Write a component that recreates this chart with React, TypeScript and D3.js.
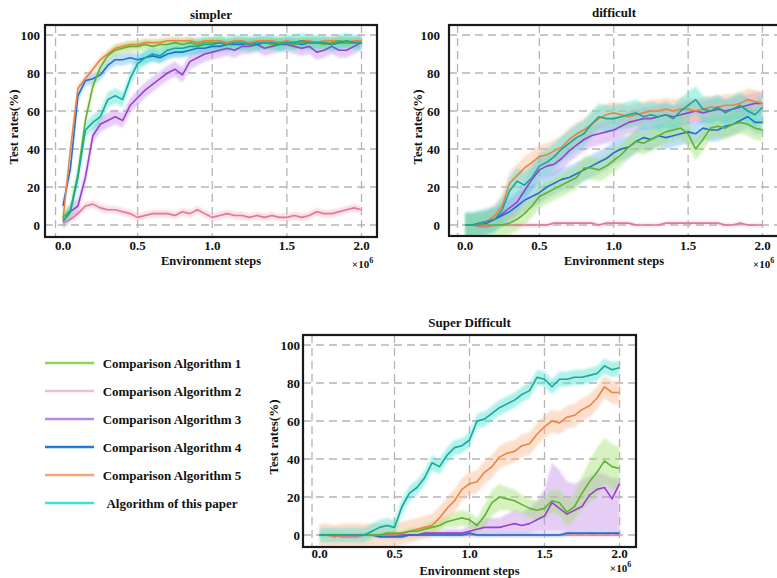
import React from 'react';
import * as d3 from 'd3';

// x positions of every sample (million environment steps)
const steps = [0, 0.05, 0.1, 0.15, 0.2, 0.25, 0.3, 0.35, 0.4, 0.45, 0.5, 0.55, 0.6, 0.65, 0.7, 0.75, 0.8, 0.85, 0.9, 0.95, 1.0,
  1.05, 1.1, 1.15, 1.2, 1.25, 1.3, 1.35, 1.4, 1.45, 1.5, 1.55, 1.6, 1.65, 1.7, 1.75, 1.8, 1.85, 1.9, 1.95, 2.0];

const legendNames = ['Comparison Algorithm 1', 'Comparison Algorithm 2', 'Comparison Algorithm 3',
  'Comparison Algorithm 4', 'Comparison Algorithm 5', 'Algorithm of this paper'];
const legendColors = ['#8fd45c', '#f6bccb', '#b985e3', '#1f79d6', '#f5a574', '#35e5d3'];
const lineColors = ['#5fb231', '#de7a92', '#9a40cf', '#1f70d2', '#ee8242', '#16a898'];
const bandColors = ['#9fe070', '#f5b3c3', '#c590ea', '#72b5f2', '#f9b98e', '#50e2d2'];

const yTicks = [0, 20, 40, 60, 80, 100];
const xTicks = [0, 0.5, 1.0, 1.5, 2.0];
const xTickLabels = ['0.0', '0.5', '1.0', '1.5', '2.0'];
const xGrid = [-0.05, 0.5, 1.0, 1.5, 2.0];

// ---- simpler
const simplerAlg1 = [4, 8, 27, 55, 73, 83, 89, 92, 93, 94, 94, 95, 94, 95, 95, 96, 95, 96, 95, 96, 96, 96, 95, 96, 96, 95, 96, 96, 95, 96, 96, 95, 96, 96, 96, 95, 96, 97, 96, 96, 96];
const simplerAlg2 = [1, 3, 6, 10, 11, 9, 8, 8, 7, 6, 4, 5, 6, 6, 6, 5, 7, 6, 8, 6, 4, 5, 6, 5, 5, 4, 5, 4, 5, 4, 4, 5, 4, 5, 7, 6, 6, 7, 8, 9, 8];
const simplerAlg3 = [2, 7, 10, 25, 47, 53, 55, 57, 55, 63, 67, 71, 74, 77, 80, 82, 79, 86, 88, 90, 91, 92, 93, 92, 94, 94, 95, 93, 94, 95, 95, 94, 93, 94, 91, 92, 94, 92, 92, 94, 96];
const simplerAlg4 = [10, 30, 68, 76, 77, 79, 84, 87, 87, 88, 87, 88, 89, 88, 90, 91, 91, 92, 93, 93, 94, 94, 95, 95, 95, 96, 95, 96, 96, 95, 96, 96, 95, 96, 96, 96, 95, 96, 96, 96, 96];
const simplerAlg5 = [3, 40, 72, 77, 82, 87, 90, 93, 94, 95, 95, 96, 96, 96, 97, 97, 97, 97, 96, 97, 97, 97, 96, 97, 97, 96, 97, 97, 97, 96, 97, 96, 97, 97, 96, 97, 97, 97, 96, 97, 97];
const simplerPaper = [2, 7, 25, 50, 54, 57, 66, 68, 66, 77, 85, 88, 90, 89, 92, 93, 93, 94, 94, 95, 95, 96, 95, 96, 96, 95, 96, 96, 96, 95, 96, 96, 97, 96, 96, 96, 95, 96, 97, 96, 96];
const simplerSpread = [3, 2, 4, 3, 2, 4];

// ---- difficult
const difficultAlg1 = [0, 0, 0, 0, 0, 0, 1, 3, 6, 10, 15, 17, 19, 21, 23, 25, 30, 30, 29, 31, 34, 37, 41, 44, 43, 45, 47, 49, 50, 51, 48, 40, 45, 51, 52, 51, 53, 54, 53, 51, 50];
const difficultAlg2 = [0, 0, -1, -1, 0, 0, 0, 0, 0, 0, 0, 0, 1, 1, 1, 1, 1, 1, 0, 1, 1, 1, 1, 0, 0, 0, 0, 1, 1, 1, 1, 1, 1, 1, 1, 0, 0, 1, 0, 0, 0];
const difficultAlg3 = [0, 0, 0, 1, 3, 6, 9, 12, 18, 24, 29, 31, 32, 35, 39, 42, 45, 47, 48, 49, 50, 52, 54, 55, 56, 56, 57, 58, 57, 58, 59, 60, 59, 60, 61, 60, 61, 62, 63, 64, 64];
const difficultAlg4 = [0, 0, 1, 2, 3, 5, 7, 10, 13, 15, 17, 20, 22, 24, 25, 27, 29, 31, 33, 35, 38, 40, 41, 44, 46, 45, 47, 46, 47, 48, 49, 48, 51, 50, 50, 52, 53, 55, 57, 54, 54];
const difficultAlg5 = [0, 0, 1, 2, 5, 10, 22, 26, 30, 33, 36, 37, 39, 41, 45, 48, 50, 53, 56, 58, 59, 58, 57, 58, 59, 60, 60, 61, 60, 61, 61, 60, 61, 62, 62, 63, 63, 64, 66, 65, 64];
const difficultPaper = [0, 0, 1, 2, 3, 8, 18, 23, 21, 25, 31, 33, 36, 40, 43, 46, 48, 53, 57, 56, 56, 57, 58, 59, 57, 58, 57, 58, 56, 60, 63, 66, 61, 60, 62, 59, 61, 63, 60, 58, 62];
const difficultSpread = [6, 1, 6, 6, 6, 7];

// ---- super difficult
const superAlg1 = [0, 0, 0, 0, 0, 0, 0, 0, 0, 1, 1, 1, 2, 2, 3, 4, 5, 7, 8, 9, 8, 5, 10, 17, 20, 19, 18, 16, 14, 13, 14, 18, 17, 12, 15, 22, 28, 33, 39, 36, 35];
const superAlg2 = [0, 0, 0, -1, -1, -1, 0, 0, 0, 0, 0, 0, 0, 0, 0, 0, 0, 0, 0, 0, 0, 0, 0, 0, 0, 0, 0, 0, 0, 0, 0, 0, 0, 0, 0, 0, 0, 0, 0, 0, 0];
const superAlg3 = [0, 0, 0, 0, 0, 0, 0, 0, 0, 0, 0, 0, 0, 0, 1, 1, 1, 1, 1, 1, 2, 3, 4, 4, 4, 5, 6, 5, 6, 8, 10, 17, 14, 11, 13, 15, 21, 24, 25, 19, 27];
const superAlg4 = [0, 0, 0, 0, 0, 0, 0, 0, -1, -1, -1, -1, 0, 0, 0, 0, 0, 0, 0, 0, 1, 0, 0, 0, 0, 0, 0, 0, 0, 0, 0, 0, 0, 1, 1, 1, 1, 1, 1, 1, 1];
const superAlg5 = [0, 0, -1, 0, 0, 0, 0, 0, 0, 0, 0, 1, 2, 3, 4, 5, 9, 14, 18, 24, 27, 28, 33, 36, 41, 43, 44, 47, 48, 53, 57, 60, 59, 62, 63, 66, 68, 72, 78, 75, 75];
const superPaper = [0, 0, 0, 0, 0, 0, 0, 2, 4, 5, 4, 15, 22, 25, 30, 38, 36, 42, 46, 47, 50, 60, 61, 64, 67, 69, 71, 74, 76, 83, 82, 78, 82, 82, 83, 83, 84, 85, 89, 87, 88];
const superSpread = [0, 1, 0, 1, 6, 4];
const superAlg1Spread = [1, 1, 1, 1, 1, 1, 1, 1, 1, 1, 1, 1, 2, 2, 2, 3, 3, 3, 4, 4, 4, 4, 6, 7, 7, 6, 6, 5, 5, 5, 6, 6, 7, 7, 7, 9, 11, 13, 12, 12, 11];
const superAlg3Lo = [0, 0, 0, 0, 0, 0, 0, 0, 0, 0, 0, 0, 0, 0, 0, 0, 0, 0, 0, 0, 0, 1, 1, 1, 1, 1, 1, 1, 1, 2, 2, 2, 2, 2, 2, 2, 2, 2, 2, 2, 2];
const superAlg3Hi = [1, 1, 1, 1, 1, 1, 1, 1, 1, 1, 1, 1, 1, 1, 2, 2, 2, 3, 3, 3, 5, 7, 9, 9, 9, 11, 13, 12, 14, 18, 24, 38, 34, 28, 27, 29, 31, 33, 32, 30, 30];

const drawOrder = [1, 2, 3, 4, 0, 5];

type Band = { lo: number[]; hi: number[] };
type PanelProps = {
  id: string;
  title: string;
  values: number[][];
  bands: Band[];
  box: { left: number; top: number; right: number; bottom: number };
  xPx: [number, number];
  yPx: [number, number];
  titleY: number;
  tickY: number;
  labelY: number;
  expY: number;
  yLabelX: number;
  yTickRight: number;
};

const font = '"Liberation Serif", "Times New Roman", serif';

const spreadBands = (values: number[][], spread: (number | number[])[]): Band[] =>
  values.map((v, i) => {
    const s = spread[i];
    return {
      lo: v.map((d, j) => d - (typeof s === 'number' ? s : s[j])),
      hi: v.map((d, j) => d + (typeof s === 'number' ? s : s[j])),
    };
  });

function Panel(p: PanelProps) {
  const x = d3.scaleLinear().domain([0, 2]).range(p.xPx);
  const y = d3.scaleLinear().domain([0, 100]).range(p.yPx);
  const line = d3.line<number>().x((_, i) => x(steps[i])).y(d => y(d));
  const area = (b: Band) =>
    d3.area<number>().x((_, i) => x(steps[i])).y0((_, i) => y(b.lo[i])).y1((_, i) => y(b.hi[i]))(b.lo) || '';
  const { left, top, right, bottom } = p.box;
  const midX = (left + right) / 2;
  return (
    <g fontFamily={font} fontWeight="bold" fontSize={13} fill="#111">
      <defs>
        <clipPath id={`clip-${p.id}`}>
          <rect x={left} y={top} width={right - left} height={bottom - top} />
        </clipPath>
      </defs>
      <text x={midX} y={p.titleY} textAnchor="middle">{p.title}</text>
      <g stroke="#b4b4b4" strokeWidth={1.3} strokeDasharray="8,5">
        {yTicks.map(t => <line key={'h' + t} x1={left} x2={right} y1={y(t)} y2={y(t)} />)}
        {xGrid.map(t => <line key={'v' + t} x1={x(t)} x2={x(t)} y1={top} y2={bottom} />)}
      </g>
      <g clipPath={`url(#clip-${p.id})`}>
        <g filter="url(#soft)">
          {drawOrder.map(i => (
            <path key={'b' + i} d={area(p.bands[i])} fill={bandColors[i]} fillOpacity={0.45} stroke="none" />
          ))}
        </g>
        {drawOrder.map(i => (
          <path key={'l' + i} d={line(p.values[i]) || ''} fill="none" stroke={lineColors[i]} strokeWidth={1.6} strokeLinejoin="round" />
        ))}
      </g>
      <rect x={left} y={top} width={right - left} height={bottom - top} fill="none" stroke="#1a1a1a" strokeWidth={2.2} />
      {yTicks.map(t => (
        <text key={'yt' + t} x={p.yTickRight} y={y(t)} dy="0.35em" textAnchor="end">{t}</text>
      ))}
      {xTicks.map((t, i) => (
        <text key={'xt' + t} x={x(t)} y={p.tickY} textAnchor="middle">{xTickLabels[i]}</text>
      ))}
      <text x={midX} y={p.labelY} textAnchor="middle" fontSize={12.5}>Environment steps</text>
      <text x={x(2) + 1} y={p.expY} textAnchor="middle" fontSize={11}>
        ×10<tspan dy={-5} fontSize={8}>6</tspan>
      </text>
      <text transform={`translate(${p.yLabelX},${(p.yPx[0] + p.yPx[1]) / 2 - 3}) rotate(-90)`} textAnchor="middle">Test rates(%)</text>
    </g>
  );
}

export default function App() {
  const simplerValues = [simplerAlg1, simplerAlg2, simplerAlg3, simplerAlg4, simplerAlg5, simplerPaper];
  const difficultValues = [difficultAlg1, difficultAlg2, difficultAlg3, difficultAlg4, difficultAlg5, difficultPaper];
  const superValues = [superAlg1, superAlg2, superAlg3, superAlg4, superAlg5, superPaper];
  const superBands = spreadBands(superValues, [superAlg1Spread, ...superSpread.slice(1)]);
  superBands[2] = { lo: superAlg3Lo, hi: superAlg3Hi };

  const legendY = d3.scalePoint<string>().domain(legendNames).range([363, 503]);

  return (
    <svg width={777} height={578} style={{ position: 'absolute', left: 0, top: 0, background: '#fff' }}>
      <defs>
        <filter id="soft" x="-5%" y="-5%" width="110%" height="110%">
          <feGaussianBlur stdDeviation="1.3" />
        </filter>
      </defs>
      <rect width={777} height={578} fill="#fff" />
      <Panel id="a" title="simpler" values={simplerValues} bands={spreadBands(simplerValues, simplerSpread)}
        box={{ left: 45, top: 25, right: 377, bottom: 237 }} xPx={[63, 361.5]} yPx={[225, 35]}
        titleY={19} tickY={250} labelY={265} expY={268} yLabelX={18} yTickRight={40} />
      <Panel id="b" title="difficult" values={difficultValues} bands={spreadBands(difficultValues, difficultSpread)}
        box={{ left: 449, top: 25, right: 779, bottom: 236 }} xPx={[465, 762.5]} yPx={[225, 35]}
        titleY={17} tickY={250} labelY={265} expY={268} yLabelX={422} yTickRight={440} />
      <Panel id="c" title="Super Difficult" values={superValues} bands={superBands}
        box={{ left: 303, top: 335, right: 636, bottom: 547 }} xPx={[319.5, 619.5]} yPx={[535, 345]}
        titleY={327} tickY={558} labelY={575} expY={572} yLabelX={278} yTickRight={300} />
      <g fontFamily={font} fontWeight="bold" fontSize={13} fill="#111">
        {legendNames.map((n, i) => (
          <g key={n}>
            <line x1={45} x2={94} y1={legendY(n)} y2={legendY(n)} stroke={legendColors[i]} strokeWidth={2.5} />
            <text x={172} y={legendY(n)} dy="0.35em" textAnchor="middle">{n}</text>
          </g>
        ))}
      </g>
    </svg>
  );
}
